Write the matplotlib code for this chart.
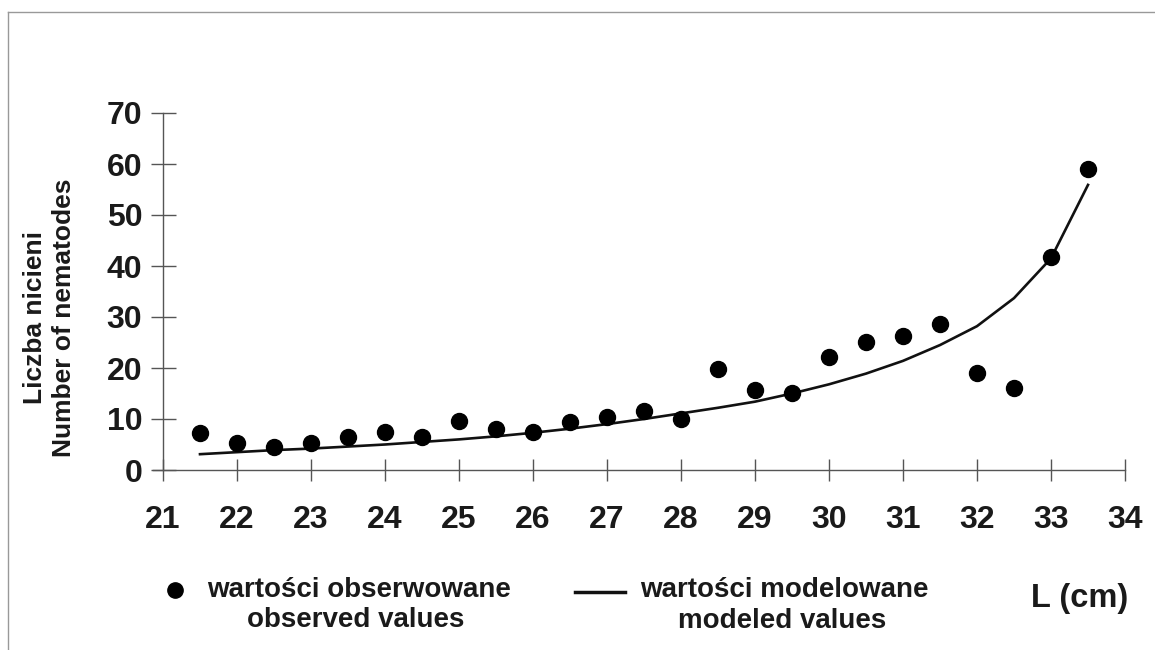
import numpy as np
import matplotlib
matplotlib.use('Agg')
import matplotlib.pyplot as plt
from matplotlib.lines import Line2D

# fish length classes (cm)
length = [21.5, 22, 22.5, 23, 23.5, 24, 24.5, 25, 25.5, 26, 26.5, 27, 27.5,
          28, 28.5, 29, 29.5, 30, 30.5, 31, 31.5, 32, 32.5, 33, 33.5]
observed = [7.2, 5.3, 4.5, 5.3, 6.5, 7.4, 6.5, 9.6, 8.0, 7.4, 9.4, 10.4, 11.6,
            10.0, 19.8, 15.7, 15.1, 22.2, 25.1, 26.3, 28.6, 19.0, 16.1, 41.8, 59.0]
modeled = [3.1, 3.5, 3.9, 4.2, 4.6, 5.0, 5.5, 6.0, 6.6, 7.3, 8.1, 9.0, 10.0,
           11.1, 12.2, 13.4, 15.0, 16.8, 18.9, 21.4, 24.5, 28.2, 33.7, 41.5, 55.9]
xticks = list(range(21, 35))
yticks = list(range(0, 71, 10))

plt.rcParams['font.family'] = ['Liberation Sans', 'DejaVu Sans']
plt.rcParams['font.weight'] = 'bold'

W, H = 1155, 650
fig = plt.figure(figsize=(W / 100, H / 100), dpi=100)
ax = fig.add_axes([153 / W, 1 - 470 / H, (1125 - 153) / W, (470 - 113) / H])

ax.plot(length, modeled, color='#111111', lw=1.9, zorder=2)
ax.plot(length, observed, 'o', color='black', ms=11.5, zorder=3)

axcol = '#555555'
txtcol = '#1a1a1a'
ax.set_xlim(21 - 10 / 74, 34)
ax.set_ylim(0, 70)
for s in ['top', 'right']:
    ax.spines[s].set_visible(False)
ax.spines['left'].set_position(('data', 21))
for s in ['left', 'bottom']:
    ax.spines[s].set_color(axcol)
    ax.spines[s].set_linewidth(1.0)
ax.set_xticks(xticks)
ax.set_yticks(yticks)
ax.tick_params(axis='x', direction='inout', length=16, width=1.0, color=axcol,
               labelsize=23, pad=17)
ax.tick_params(axis='y', direction='inout', length=18, width=1.0, color=axcol,
               labelsize=23, pad=6)
for lab in ax.get_xticklabels() + ax.get_yticklabels():
    lab.set_fontweight('bold')
    lab.set_color(txtcol)

# y label (two lines)
fig.text(35 / W, 1 - 318 / H, 'Liczba nicieni', rotation=90, ha='center',
         va='center', fontsize=19, fontweight='bold', color=txtcol)
fig.text(64 / W, 1 - 318 / H, 'Number of nematodes', rotation=90, ha='center',
         va='center', fontsize=19, fontweight='bold', color=txtcol)

# legend drawn below the axes
fig.add_artist(Line2D([175 / W], [1 - 590 / H], marker='o', color='black',
                      ms=11, transform=fig.transFigure))
fig.text(207 / W, 1 - 590 / H, 'wartości obserwowane', ha='left', va='center',
         fontsize=20, fontweight='bold', color=txtcol)
fig.text(356 / W, 1 - 620 / H, 'observed values', ha='center', va='center',
         fontsize=20, fontweight='bold', color=txtcol)
fig.add_artist(Line2D([575 / W, 625 / W], [1 - 592 / H, 1 - 592 / H],
                      color='#111111', lw=2.5, transform=fig.transFigure))
fig.text(640 / W, 1 - 590 / H, 'wartości modelowane', ha='left', va='center',
         fontsize=20, fontweight='bold', color=txtcol)
fig.text(782 / W, 1 - 621 / H, 'modeled values', ha='center', va='center',
         fontsize=20, fontweight='bold', color=txtcol)
fig.text(1128 / W, 1 - 598 / H, 'L (cm)', ha='right', va='center',
         fontsize=23.5, fontweight='bold', color=txtcol)

# outer frame (top and left edges visible)
fig.add_artist(Line2D([8 / W, 1.0], [1 - 12 / H, 1 - 12 / H], color='#999999',
                      lw=1.0, transform=fig.transFigure))
fig.add_artist(Line2D([8 / W, 8 / W], [0.0, 1 - 12 / H], color='#999999',
                      lw=1.0, transform=fig.transFigure))

fig.savefig('out.png', dpi=100, facecolor='white')
